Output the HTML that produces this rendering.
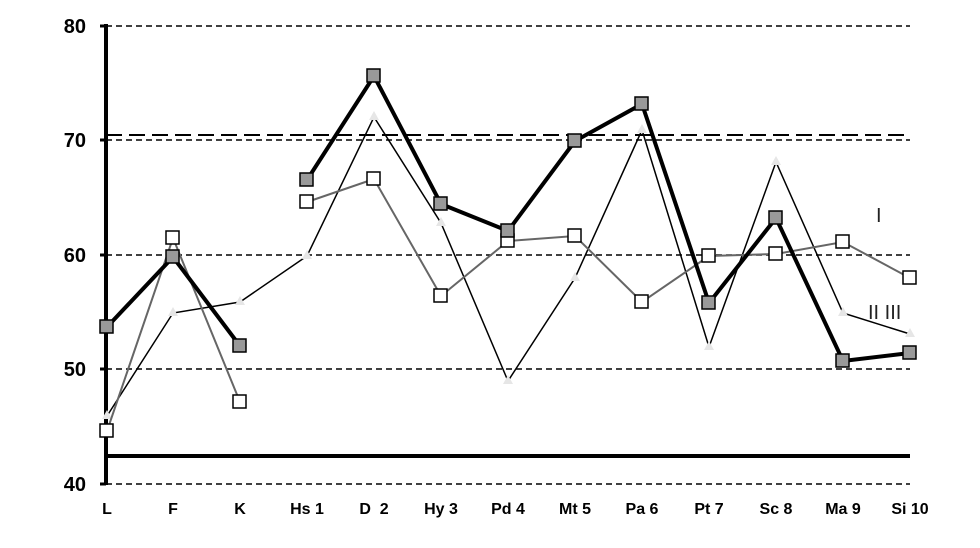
<!DOCTYPE html><html><head><style>body{margin:0;background:#fff}svg{display:block}</style></head><body>
<svg width="980" height="548" xmlns="http://www.w3.org/2000/svg" font-family="Liberation Sans, sans-serif" font-weight="bold">
<g stroke="#000" stroke-width="1.5" stroke-dasharray="6,4">
<line x1="106" y1="26" x2="910" y2="26"/><line x1="106" y1="140" x2="910" y2="140"/><line x1="106" y1="255" x2="910" y2="255"/><line x1="106" y1="369" x2="910" y2="369"/><line x1="106" y1="484" x2="910" y2="484"/>
</g>
<line x1="106" y1="135" x2="905" y2="135" stroke="#000" stroke-width="2" stroke-dasharray="16,7"/>
<line x1="106" y1="456" x2="910" y2="456" stroke="#000" stroke-width="4"/>
<line x1="106" y1="24" x2="106" y2="485" stroke="#000" stroke-width="4"/>
<g stroke="#000" stroke-width="3"><line x1="100" y1="26" x2="106" y2="26"/><line x1="100" y1="140" x2="106" y2="140"/><line x1="100" y1="255" x2="106" y2="255"/><line x1="100" y1="369" x2="106" y2="369"/><line x1="100" y1="484" x2="106" y2="484"/></g>
<g font-size="20" text-anchor="end"><text x="86" y="33">80</text><text x="86" y="147">70</text><text x="86" y="262">60</text><text x="86" y="376">50</text><text x="86" y="491">40</text></g>
<g font-size="16" text-anchor="middle"><text x="107" y="514">L</text><text x="173" y="514">F</text><text x="240" y="514">K</text><text x="307" y="514">Hs 1</text><text x="374" y="514" xml:space="preserve">D  2</text><text x="441" y="514">Hy 3</text><text x="508" y="514">Pd 4</text><text x="575" y="514">Mt 5</text><text x="642" y="514">Pa 6</text><text x="709" y="514">Pt 7</text><text x="776" y="514">Sc 8</text><text x="843" y="514">Ma 9</text><text x="910" y="514">Si 10</text></g>
<g fill="none" stroke="#000" stroke-width="1.5">
<polyline points="107,416 173,313 240,302 307,256 374,117 441,223 508,381 575,278 642,130 709,347 776,162 843,313 910,334"/>
</g>
<g fill="#e6e6e6"><path d="M107,410 l-5,9 h10z"/><path d="M173,307 l-5,9 h10z"/><path d="M240,296 l-5,9 h10z"/><path d="M307,250 l-5,9 h10z"/><path d="M374,111 l-5,9 h10z"/><path d="M441,217 l-5,9 h10z"/><path d="M508,375 l-5,9 h10z"/><path d="M575,272 l-5,9 h10z"/><path d="M642,124 l-5,9 h10z"/><path d="M709,341 l-5,9 h10z"/><path d="M776,156 l-5,9 h10z"/><path d="M843,307 l-5,9 h10z"/><path d="M910,328 l-5,9 h10z"/></g>
<g fill="none" stroke="#666" stroke-width="2">
<polyline points="107,431 173,238 240,402"/><polyline points="307,202 374,179 441,296 508,241 575,236 642,302 709,256 776,254 843,242 910,278"/>
</g>
<g fill="none" stroke="#000" stroke-width="4">
<polyline points="107,327 173,257 240,346"/><polyline points="307,180 374,76 441,204 508,231 575,141 642,104 709,303 776,218 843,361 910,353"/>
</g>
<g fill="#fff" stroke="#000" stroke-width="1.5">
<rect x="100" y="424" width="13" height="13"/><rect x="166" y="231" width="13" height="13"/><rect x="233" y="395" width="13" height="13"/><rect x="300" y="195" width="13" height="13"/><rect x="367" y="172" width="13" height="13"/><rect x="434" y="289" width="13" height="13"/><rect x="501" y="234" width="13" height="13"/><rect x="568" y="229" width="13" height="13"/><rect x="635" y="295" width="13" height="13"/><rect x="702" y="249" width="13" height="13"/><rect x="769" y="247" width="13" height="13"/><rect x="836" y="235" width="13" height="13"/><rect x="903" y="271" width="13" height="13"/>
</g>
<g fill="#999" stroke="#000" stroke-width="1.5">
<rect x="100" y="320" width="13" height="13"/><rect x="166" y="250" width="13" height="13"/><rect x="233" y="339" width="13" height="13"/><rect x="300" y="173" width="13" height="13"/><rect x="367" y="69" width="13" height="13"/><rect x="434" y="197" width="13" height="13"/><rect x="501" y="224" width="13" height="13"/><rect x="568" y="134" width="13" height="13"/><rect x="635" y="97" width="13" height="13"/><rect x="702" y="296" width="13" height="13"/><rect x="769" y="211" width="13" height="13"/><rect x="836" y="354" width="13" height="13"/><rect x="903" y="346" width="13" height="13"/>
</g>
<g font-weight="normal" font-size="20" fill="#222"><text x="876" y="222">I</text><text x="868" y="319">II III</text></g>
</svg></body></html>
